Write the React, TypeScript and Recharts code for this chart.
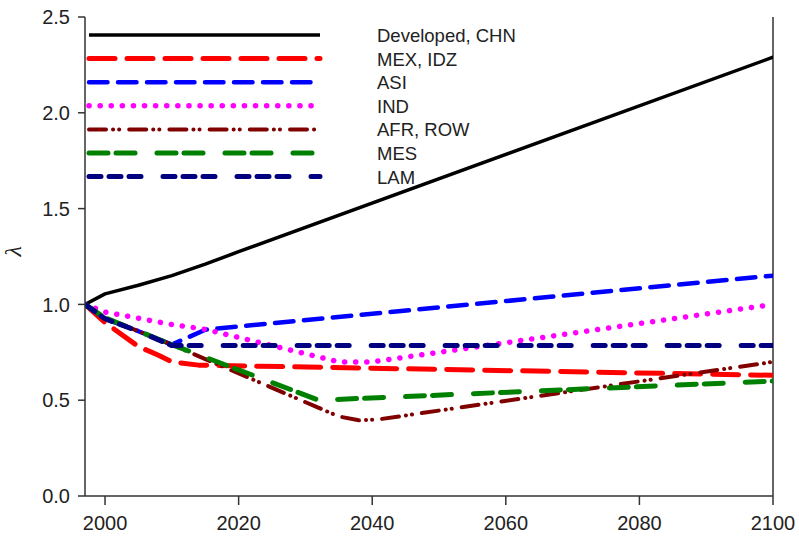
import React from "react";
import { LineChart, Line, XAxis, YAxis, Legend, ReferenceLine } from "recharts";

// ---- data ----
const xTicks = [2000, 2020, 2040, 2060, 2080, 2100];
const yTicks = [0, 0.5, 1.0, 1.5, 2.0, 2.5];

const developedYears = [1997, 2000, 2005, 2010, 2015, 2020, 2100];
const developedValues = [1.0, 1.055, 1.1, 1.15, 1.21, 1.275, 2.29];

const mexYears = [1997, 2000, 2005, 2008, 2010, 2014, 2100];
const mexValues = [1.0, 0.905, 0.78, 0.735, 0.7, 0.683, 0.63];

const asiYears = [1997, 2000, 2005, 2010, 2015, 2100];
const asiValues = [1.0, 0.925, 0.86, 0.79, 0.868, 1.15];

const indYears = [1997, 2000, 2010, 2015, 2035, 2040, 2100];
const indValues = [1.0, 0.96, 0.895, 0.87, 0.7, 0.7, 1.0];

const afrYears = [1997, 2000, 2005, 2010, 2032, 2035, 2038, 2041, 2100];
const afrValues = [1.0, 0.93, 0.86, 0.79, 0.46, 0.415, 0.395, 0.4, 0.7];

const mesYears = [1997, 2000, 2005, 2010, 2032, 2100];
const mesValues = [1.0, 0.93, 0.86, 0.79, 0.5, 0.6];

const lamYears = [1997, 2000, 2005, 2010, 2100];
const lamValues = [1.0, 0.925, 0.86, 0.785, 0.785];

const seriesNames = ["Developed, CHN", "MEX, IDZ", "ASI", "IND", "AFR, ROW", "MES", "LAM"];

const toPoints = (years: number[], values: number[]) =>
  years.map((year, i) => ({ year, value: values[i] }));

const series = [
  { name: seriesNames[0], color: "#000000", width: 3.5, dash: undefined as string | undefined, data: toPoints(developedYears, developedValues) },
  { name: seriesNames[1], color: "#ff0000", width: 5, dash: "26 12", data: toPoints(mexYears, mexValues) },
  { name: seriesNames[2], color: "#0000ff", width: 4.5, dash: "18.5 10.5", data: toPoints(asiYears, asiValues) },
  { name: seriesNames[3], color: "#ff00ff", width: 5.5, dash: "0.1 11", data: toPoints(indYears, indValues) },
  { name: seriesNames[4], color: "#800000", width: 4, dash: "17 7 0.1 6 0.1 10", data: toPoints(afrYears, afrValues) },
  { name: seriesNames[5], color: "#008000", width: 5, dash: "19 8 19 22", data: toPoints(mesYears, mesValues) },
  { name: seriesNames[6], color: "#000080", width: 5, dash: "12 8 12 8 12 22", data: toPoints(lamYears, lamValues) },
];

const axisColor = "#333333";
const tickFont = { fontFamily: "'Liberation Sans', Arial, sans-serif", fontSize: 20, fill: "#222222" };

const LegendBox = () => (
  <svg width={460} height={175} style={{ display: "block", overflow: "visible" }}>
    {series.map((s, i) => {
      const y = 15 + i * 23.6;
      return (
        <g key={s.name}>
          <line
            x1={4}
            x2={235}
            y1={y}
            y2={y}
            stroke={s.color}
            strokeWidth={s.width}
            strokeDasharray={s.dash}
            strokeLinecap={s.dash ? "round" : "butt"}
          />
          <text
            x={292}
            y={y + 7}
            fontFamily="'Liberation Sans', Arial, sans-serif"
            fontSize={18.5}
            fill="#222222"
          >
            {s.name}
          </text>
        </g>
      );
    })}
  </svg>
);

export default function App() {
  return (
    <div style={{ position: "absolute", left: 0, top: 0, width: 799, height: 537, background: "#fff" }}>
      <LineChart width={799} height={537} margin={{ top: 17, right: 26, bottom: 0, left: 0 }}>
        <XAxis
          type="number"
          dataKey="year"
          domain={[1997, 2100]}
          ticks={xTicks}
          allowDataOverflow
          height={41}
          stroke={axisColor}
          strokeWidth={1.5}
          tickSize={9}
          tickMargin={11}
          tick={tickFont}
          tickLine={{ stroke: axisColor, strokeWidth: 1.5 }}
        />
        <YAxis
          type="number"
          dataKey="value"
          domain={[0, 2.5]}
          ticks={yTicks}
          width={85}
          stroke={axisColor}
          strokeWidth={1.5}
          tickSize={7}
          tickMargin={8}
          tick={tickFont}
          tickLine={{ stroke: axisColor, strokeWidth: 1.5 }}
          tickFormatter={(v: number) => v.toFixed(1)}
          label={{
            value: "λ",
            angle: -90,
            position: "insideLeft",
            offset: 12,
            style: { fontFamily: "'Liberation Serif', serif", fontStyle: "italic", fontSize: 24, fill: "#222222" },
          }}
        />
        <ReferenceLine x={2100} stroke={axisColor} strokeWidth={1.5} ifOverflow="visible" />
        {series.map((s) => (
          <Line
            key={s.name}
            data={s.data}
            dataKey="value"
            name={s.name}
            type="linear"
            stroke={s.color}
            strokeWidth={s.width}
            strokeDasharray={s.dash}
            strokeLinecap="round"
            strokeLinejoin="round"
            dot={false}
            activeDot={false}
            isAnimationActive={false}
          />
        ))}
        <Legend
          layout="horizontal"
          verticalAlign="middle"
          align="center"
          wrapperStyle={{ position: "absolute", top: 20, left: 85, width: 460, height: 175 }}
          content={() => <LegendBox />}
        />
      </LineChart>
    </div>
  );
}
